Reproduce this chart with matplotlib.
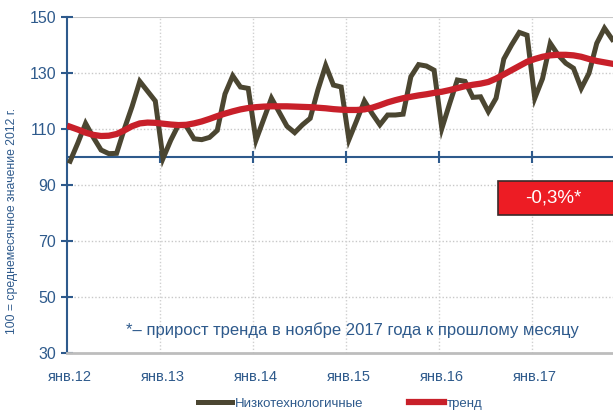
import numpy as np
import matplotlib
matplotlib.use("Agg")
import matplotlib.pyplot as plt
from matplotlib.patches import Rectangle

# monthly values, Jan 2012 .. Nov 2017
low_tech = [98.5, 105, 112, 107, 102.5, 101.2, 101.3, 110, 118, 127, 123.5, 120,
            99.5, 106, 111.5, 111, 106.5, 106.2, 107, 109.5, 122.5, 129, 125, 124.5,
            106, 113.5, 121, 116, 111, 108.7, 111.5, 113.8, 124, 132.7, 125.7, 125,
            106.2, 113, 120, 115.5, 111.5, 115, 115, 115.3, 128.7, 133, 132.5, 131,
            110.2, 119, 127.5, 127, 121.3, 121.5, 116.2, 121, 135, 140, 144.5, 143.5,
            121, 128, 140.6, 136.5, 133.5, 131.7, 124.5, 129.9, 140.6, 146, 142]
trend = [110.8, 109.8, 108.7, 107.9, 107.5, 107.6, 108.2, 109.5, 111, 112, 112.3, 112.2,
         111.9, 111.6, 111.4, 111.5, 112, 112.7, 113.6, 114.6, 115.5, 116.3, 117, 117.5,
         117.8, 118, 118.1, 118.1, 118.1, 118, 117.9, 117.8, 117.6, 117.4, 117.1, 116.9,
         116.8, 116.8, 117, 117.6, 118.5, 119.5, 120.3, 121, 121.5, 122, 122.4, 122.9,
         123.3, 123.9, 124.6, 125.3, 125.8, 126.2, 126.8, 128, 129.5, 131, 132.5, 134,
         135, 135.8, 136.3, 136.5, 136.5, 136.3, 135.8, 135, 134.3, 133.8, 133.3]
year_labels = ["янв.12", "янв.13", "янв.14", "янв.15", "янв.16", "янв.17"]
y_ticks = [30, 50, 70, 90, 110, 130, 150]

blue = "#2e5a8c"
plt.rcParams["font.family"] = ["Liberation Sans", "DejaVu Sans"]

fig = plt.figure(figsize=(6.13, 4.11), dpi=100)
ax = fig.add_axes([67/613, 58/411, 546/613, 336/411])

x = np.arange(len(low_tech))
yr = np.arange(len(year_labels)) * 12 - 0.4

ax.set_xlim(-0.4, 70.1)
ax.set_ylim(30, 150)

for v in y_ticks[1:-1]:
    ax.axhline(v, color="#c8c8c8", lw=1, ls=(0, (1, 1.5)), zorder=1)
for p in yr[1:]:
    ax.axvline(p, color="#d0d0d0", lw=1, ls=(0, (1, 1.5)), zorder=1)
ax.axhline(150, color="#c8c8c8", lw=1.5, zorder=1)

ax.axhline(100, color=blue, lw=1.5, zorder=2)
ax.plot(yr[1:], [100] * (len(yr) - 1), ls="none", marker="|", ms=9, mew=1.5, color=blue, zorder=2)

ax.plot(x, low_tech, color="#4b4631", lw=3.6, solid_joinstyle="miter", zorder=3, label="Низкотехнологичные")
ax.plot(x, trend, color="#c8202a", lw=4.5, zorder=4, label="тренд")

for s in ["top", "right"]:
    ax.spines[s].set_visible(False)
ax.spines["bottom"].set_color("#bdbdbd")
ax.spines["bottom"].set_linewidth(2)
ax.spines["left"].set_color(blue)
ax.spines["left"].set_linewidth(1.5)

ax.set_yticks(y_ticks)
ax.tick_params(axis="y", direction="inout", length=8, width=1.5, color=blue,
               labelcolor=blue, labelsize=11.5, pad=4)
ax.set_xticks(yr + 0.4)
ax.set_xticklabels(year_labels)
ax.tick_params(axis="x", length=0, labelcolor=blue, labelsize=10.5, pad=12)

ax.set_ylabel("100 = среднемесячное значение 2012 г.", color=blue, fontsize=8.8)
ax.yaxis.set_label_coords(-0.09, 0.393)

ax.text(0.522, 0.067, "*– прирост тренда в ноябре 2017 года к прошлому месяцу",
        transform=ax.transAxes, ha="center", va="center", color=blue, fontsize=12)

box = Rectangle((0.789, 0.411), 0.3, 0.101, transform=ax.transAxes, fc="#ed1c24",
                ec="#3a2a2a", lw=1.2, clip_on=False, zorder=5)
ax.add_patch(box)
ax.text(0.89, 0.461, "-0,3%*", transform=ax.transAxes, ha="center", va="center",
        color="white", fontsize=13.5, zorder=6)

ax.legend(loc="lower center", bbox_to_anchor=(0.5, -0.205), ncol=2, frameon=False,
          fontsize=9.5, labelcolor=blue, handlelength=2.6, handletextpad=0.2,
          columnspacing=3.5)

fig.savefig("out.png", dpi=100)
